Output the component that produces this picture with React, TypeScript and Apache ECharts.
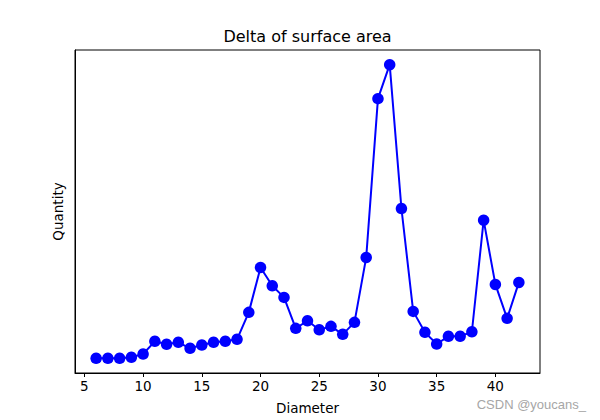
import React, { useEffect, useRef } from "react";
import * as echarts from "echarts";

const diameters = [6, 7, 8, 9, 10, 11, 12, 13, 14, 15, 16, 17, 18, 19, 20, 21, 22, 23, 24, 25, 26, 27, 28, 29, 30, 31, 32, 33, 34, 35, 36, 37, 38, 39, 40, 41, 42];
const quantities = [14.7, 14.7, 14.7, 15.7, 19, 31.7, 28.7, 30.7, 24.7, 28, 30.7, 31.7, 33.7, 60.7, 105.7, 87.3, 75.7, 44.7, 52.3, 43.3, 46.7, 38.7, 50.7, 115.7, 274.7, 308.7, 164.7, 61.7, 40.7, 29, 36.7, 36.7, 41.3, 153, 88.7, 54.7, 90.7];
const xTicks = [5, 10, 15, 20, 25, 30, 35, 40];

const FONT = "DejaVu Sans";

export default function App() {
  const ref = useRef<HTMLDivElement>(null);
  useEffect(() => {
    if (!ref.current) return;
    const chart = echarts.init(ref.current, null, { renderer: "svg" });
    const xmin = Math.min(...diameters);
    const xmax = Math.max(...diameters);
    const xm = (xmax - xmin) * 0.05;
    chart.setOption({
      animation: false,
      backgroundColor: "#ffffff",
      grid: {
        left: 75,
        right: 60,
        top: 50,
        bottom: 46,
        show: true,
        borderColor: "#000000",
        borderWidth: 1,
        backgroundColor: "transparent",
      },
      graphic: [
        {
          type: "text",
          x: 307.5,
          y: 36.5,
          style: {
            text: "Delta of surface area",
            font: `16px ${FONT}`,
            fill: "#000000",
            textAlign: "center",
            textVerticalAlign: "middle",
          },
        },
        {
          type: "text",
          x: 586,
          y: 404,
          style: {
            text: "CSDN @youcans_",
            font: "13px Liberation Sans",
            fill: "#a6a6a6",
            textAlign: "right",
            textVerticalAlign: "middle",
          },
        },
      ],
      xAxis: {
        type: "value",
        min: xmin - xm,
        max: xmax + xm,
        name: "Diameter",
        nameLocation: "middle",
        nameGap: 28,
        nameTextStyle: { fontFamily: FONT, fontSize: 13.5, color: "#000" },
        axisLine: { show: true, onZero: false, lineStyle: { color: "#000", width: 1 } },
        axisTick: { show: true, length: 4, customValues: xTicks, lineStyle: { color: "#000" } },
        axisLabel: { show: true, customValues: xTicks, fontFamily: FONT, fontSize: 13.5, color: "#000", margin: 6 },
        splitLine: { show: false },
      },
      yAxis: {
        type: "value",
        min: (v: any) => v.min - (v.max - v.min) * 0.05,
        max: (v: any) => v.max + (v.max - v.min) * 0.05,
        name: "Quantity",
        nameLocation: "middle",
        nameGap: 10,
        nameRotate: 90,
        nameTextStyle: { fontFamily: FONT, fontSize: 13.5, color: "#000" },
        axisLine: { show: true, lineStyle: { color: "#000", width: 1 } },
        axisTick: { show: false },
        axisLabel: { show: false },
        splitLine: { show: false },
      },
      series: [
        {
          type: "line",
          data: diameters.map((d, i) => [d, quantities[i]]),
          symbol: "circle",
          symbolSize: 11.5,
          lineStyle: { color: "#0000ff", width: 2 },
          itemStyle: { color: "#0000ff" },
        },
      ],
    });
    return () => chart.dispose();
  }, []);
  return <div ref={ref} style={{ width: 600, height: 420, position: "absolute", left: 0, top: 0 }} />;
}
